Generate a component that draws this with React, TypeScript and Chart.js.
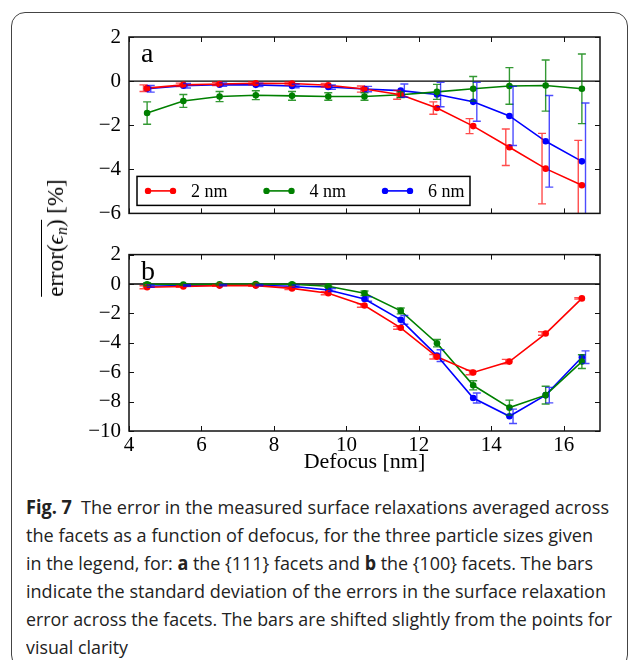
import React, { useEffect, useLayoutEffect, useRef } from "react";
import { Chart, registerables } from "chart.js";

Chart.register(...registerables);

// ---------------- data ----------------
const defocusNm = [4.5, 5.5, 6.5, 7.5, 8.5, 9.5, 10.5, 11.5, 12.5, 13.5, 14.5, 15.5, 16.5];
const sizeLabels = ["2 nm", "4 nm", "6 nm"];
const xTickValues = [4, 6, 8, 10, 12, 14, 16];
const yTicksA = [2, 0, -2, -4, -6];
const yTicksB = [2, 0, -2, -4, -6, -8, -10];

// panel a : {111} facets
const a2nm = [-0.32, -0.17, -0.13, -0.1, -0.11, -0.19, -0.36, -0.62, -1.22, -2.04, -3.0, -3.97, -4.72];
const a2nmSd = [0.15, 0.08, 0.07, 0.07, 0.07, 0.08, 0.14, 0.2, 0.28, 0.34, 0.83, 1.6, 2.03];
const a4nm = [-1.45, -0.9, -0.7, -0.64, -0.67, -0.7, -0.7, -0.62, -0.49, -0.35, -0.22, -0.2, -0.35];
const a4nmSd = [0.51, 0.29, 0.23, 0.2, 0.2, 0.17, 0.17, 0.13, 0.34, 0.56, 0.83, 1.16, 1.58];
const a6nm = [-0.35, -0.21, -0.16, -0.17, -0.22, -0.27, -0.36, -0.43, -0.61, -0.94, -1.58, -2.73, -3.64];
const a6nmSd = [0.15, 0.1, 0.08, 0.08, 0.08, 0.1, 0.12, 0.3, 0.55, 0.88, 1.34, 2.08, 2.65];

// panel b : {100} facets
const b2nm = [-0.22, -0.17, -0.11, -0.11, -0.3, -0.63, -1.46, -2.98, -4.95, -6.02, -5.28, -3.37, -0.98];
const b2nmSd = [0.1, 0.05, 0.05, 0.05, 0.08, 0.1, 0.12, 0.1, 0.15, 0.15, 0.15, 0.12, 0.05];
const b4nm = [-0.02, -0.03, -0.02, 0.0, -0.02, -0.15, -0.63, -1.83, -4.03, -6.89, -8.41, -7.56, -5.28];
const b4nmSd = [0.1, 0.05, 0.05, 0.05, 0.08, 0.08, 0.15, 0.2, 0.25, 0.31, 0.51, 0.6, 0.47];
const b6nm = [-0.15, -0.1, -0.08, -0.08, -0.15, -0.41, -1.02, -2.44, -4.87, -7.76, -9.0, -7.56, -4.98];
const b6nmSd = [0.08, 0.05, 0.05, 0.05, 0.08, 0.1, 0.15, 0.3, 0.4, 0.34, 0.49, 0.53, 0.43];

// error bars are drawn slightly shifted (defocus units) for clarity
const barOffsetNm = [-0.1, 0, 0.1];

// ---------------- style ----------------
const lineColors = ["#ff0000", "#008000", "#0000ff"];
const barColors = ["rgba(255,0,0,0.7)", "rgba(0,128,0,0.8)", "rgba(0,0,255,0.7)"];
const SERIF = '"Liberation Serif", "DejaVu Serif", serif';
const captionWidths = [583, 567, 567, 580, 586, 102];

const fmt = (v: number | string) => {
  const n = Number(v);
  return n < 0 ? "\u2212" + Math.abs(n) : String(n);
};

type PanelProps = {
  values: number[][];
  errors: number[][];
  yTicks: number[];
  yMin: number;
  yMax: number;
  letter: string;
  showLegend: boolean;
  showXLabels: boolean;
  top: number;
  canvasHeight: number;
  padTop: number;
  xAxisHeight: number;
};

function makeDecor(p: PanelProps) {
  return {
    id: "decor" + p.letter,
    beforeDatasetsDraw(chart: any) {
      const { ctx, chartArea, scales } = chart;
      const y0 = scales.y.getPixelForValue(0);
      ctx.save();
      ctx.strokeStyle = "#000";
      ctx.lineWidth = 1.3;
      ctx.beginPath();
      ctx.moveTo(chartArea.left, y0);
      ctx.lineTo(chartArea.right, y0);
      ctx.stroke();
      ctx.restore();
    },
    afterDatasetsDraw(chart: any) {
      const { ctx, chartArea, scales } = chart;
      const { left, right, top, bottom } = chartArea;
      const x = scales.x;
      const y = scales.y;
      // error bars
      ctx.save();
      ctx.beginPath();
      ctx.rect(left, top, right - left, bottom - top);
      ctx.clip();
      const cap = 4;
      p.errors.forEach((errs, i) => {
        const vals = p.values[i];
        ctx.strokeStyle = barColors[i];
        ctx.lineWidth = 1.4;
        defocusNm.forEach((xv, j) => {
          const px = x.getPixelForValue(xv + barOffsetNm[i]);
          const hi = y.getPixelForValue(vals[j] + errs[j]);
          const lo = y.getPixelForValue(vals[j] - errs[j]);
          ctx.beginPath();
          ctx.moveTo(px, hi);
          ctx.lineTo(px, lo);
          ctx.moveTo(px - cap, hi);
          ctx.lineTo(px + cap, hi);
          ctx.moveTo(px - cap, lo);
          ctx.lineTo(px + cap, lo);
          ctx.stroke();
        });
      });
      ctx.restore();

      // frame + inward ticks
      ctx.save();
      ctx.strokeStyle = "#111";
      ctx.lineWidth = 1.5;
      ctx.strokeRect(left, top, right - left, bottom - top);
      ctx.lineWidth = 1;
      const tl = 5;
      ctx.beginPath();
      xTickValues.forEach((v) => {
        const px = Math.round(x.getPixelForValue(v)) + 0.5;
        ctx.moveTo(px, bottom);
        ctx.lineTo(px, bottom - tl);
        ctx.moveTo(px, top);
        ctx.lineTo(px, top + tl);
      });
      p.yTicks.forEach((v) => {
        const py = Math.round(y.getPixelForValue(v)) + 0.5;
        ctx.moveTo(left, py);
        ctx.lineTo(left + tl, py);
        ctx.moveTo(right, py);
        ctx.lineTo(right - tl, py);
      });
      ctx.stroke();

      // panel letter
      ctx.fillStyle = "#000";
      ctx.font = "28px " + SERIF;
      ctx.textAlign = "left";
      ctx.textBaseline = "alphabetic";
      ctx.fillText(p.letter, left + 12, top + 25);

      // legend
      if (p.showLegend) {
        const bx = left + 8;
        const by = bottom - 37;
        const bw = 333;
        const bh = 29;
        ctx.fillStyle = "#fff";
        ctx.fillRect(bx, by, bw, bh);
        ctx.strokeStyle = "#000";
        ctx.lineWidth = 1.5;
        ctx.strokeRect(bx, by, bw, bh);
        const cy = by + bh / 2;
        chart.data.datasets.forEach((ds: any, i: number) => {
          const lx = bx + 11 + i * 118.5;
          ctx.strokeStyle = lineColors[i];
          ctx.fillStyle = lineColors[i];
          ctx.lineWidth = 1.6;
          ctx.beginPath();
          ctx.moveTo(lx, cy);
          ctx.lineTo(lx + 25, cy);
          ctx.stroke();
          [lx, lx + 25].forEach((dx) => {
            ctx.beginPath();
            ctx.arc(dx, cy, 3.2, 0, Math.PI * 2);
            ctx.fill();
          });
          ctx.fillStyle = "#000";
          ctx.font = "18px " + SERIF;
          ctx.textBaseline = "middle";
          ctx.fillText(ds.label, lx + 43, cy + 1);
        });
      }
      ctx.restore();
    },
  };
}

function Panel(p: PanelProps) {
  const ref = useRef<HTMLCanvasElement | null>(null);
  useEffect(() => {
    if (!ref.current) return;
    const datasets = p.values.map((vals, i) => ({
      label: sizeLabels[i],
      data: defocusNm.map((xv, j) => ({ x: xv, y: vals[j] })),
      borderColor: lineColors[i],
      backgroundColor: lineColors[i],
      pointBackgroundColor: lineColors[i],
      pointBorderWidth: 0,
      pointRadius: 3.3,
      borderWidth: 1.6,
      tension: 0,
      fill: false,
    }));
    const tickFont = { family: SERIF, size: 21 };
    const chart = new Chart(ref.current, {
      type: "line",
      data: { datasets },
      plugins: [makeDecor(p)],
      options: {
        animation: false,
        responsive: false,
        devicePixelRatio: 1,
        maintainAspectRatio: false,
        layout: { padding: { top: p.padTop, right: 30, left: 0, bottom: 0 } },
        plugins: {
          legend: { display: false },
          tooltip: { enabled: false },
          title: { display: false },
        },
        scales: {
          x: {
            type: "linear",
            min: 4,
            max: 17,
            afterBuildTicks: (s: any) => {
              s.ticks = xTickValues.map((v) => ({ value: v }));
            },
            afterFit: (s: any) => {
              s.height = p.xAxisHeight;
            },
            grid: { display: false, drawTicks: false, tickLength: 0 },
            border: { display: false },
            ticks: {
              display: p.showXLabels,
              autoSkip: false,
              maxRotation: 0,
              padding: 2,
              color: "#000",
              font: tickFont,
              callback: (v: any) => fmt(v),
            },
            title: {
              display: p.showXLabels,
              text: "Defocus [nm]",
              color: "#000",
              font: { family: SERIF, size: 22 },
              padding: { top: 0, bottom: 5 },
            },
          },
          y: {
            type: "linear",
            min: p.yMin,
            max: p.yMax,
            afterBuildTicks: (s: any) => {
              s.ticks = p.yTicks.map((v) => ({ value: v }));
            },
            afterFit: (s: any) => {
              s.width = 129;
            },
            grid: { display: false, drawTicks: false, tickLength: 0 },
            border: { display: false },
            ticks: {
              autoSkip: false,
              padding: 8,
              color: "#000",
              font: tickFont,
              callback: (v: any) => fmt(v),
            },
          },
        },
      } as any,
    } as any);
    return () => chart.destroy();
  }, []);
  return (
    <canvas
      ref={ref}
      width={630}
      height={p.canvasHeight}
      style={{ position: "absolute", left: 0, top: p.top, width: 630, height: p.canvasHeight }}
    />
  );
}

export default function App() {
  const lineRefs = useRef<(HTMLSpanElement | null)[]>([]);
  useLayoutEffect(() => {
    const fit = () =>
      lineRefs.current.forEach((el, i) => {
        if (!el) return;
        el.style.transform = "none";
        const w = el.getBoundingClientRect().width;
        if (w > 0) el.style.transform = `scaleX(${captionWidths[i] / w})`;
      });
    fit();
    const f: any = (document as any).fonts;
    if (f && f.ready) f.ready.then(fit);
  }, []);

  const lines: React.ReactNode[] = [
    <>
      <b>Fig. 7</b>&ensp;The error in the measured surface relaxations averaged across
    </>,
    <>the facets as a function of defocus, for the three particle sizes given</>,
    <>
      in the legend, for: <b>a</b> the {"{111}"} facets and <b>b</b> the {"{100}"} facets. The bars
    </>,
    <>indicate the standard deviation of the errors in the surface relaxation</>,
    <>error across the facets. The bars are shifted slightly from the points for</>,
    <>visual clarity</>,
  ];

  return (
    <div
      style={{
        position: "absolute",
        left: 0,
        top: 0,
        width: 630,
        height: 660,
        overflow: "hidden",
        background: "#fff",
      }}
    >
      <div
        style={{
          position: "absolute",
          left: 11,
          top: 12,
          width: 617,
          height: 657,
          border: "1.3px solid #444",
          borderRadius: 14,
          boxSizing: "border-box",
        }}
      />
      <Panel
        values={[a2nm, a4nm, a6nm]}
        errors={[a2nmSd, a4nmSd, a6nmSd]}
        yTicks={yTicksA}
        yMin={-6}
        yMax={2}
        letter="a"
        showLegend={true}
        showXLabels={false}
        top={0}
        canvasHeight={234}
        padTop={37}
        xAxisHeight={14}
      />
      <Panel
        values={[b2nm, b4nm, b6nm]}
        errors={[b2nmSd, b4nmSd, b6nmSd]}
        yTicks={yTicksB}
        yMin={-10}
        yMax={2}
        letter="b"
        showLegend={false}
        showXLabels={true}
        top={234}
        canvasHeight={246}
        padTop={13}
        xAxisHeight={49}
      />
      <div
        style={{
          position: "absolute",
          left: 59,
          top: 238,
          transform: "translate(-50%, -50%) rotate(-90deg)",
          whiteSpace: "nowrap",
          fontFamily: SERIF,
          fontSize: 23,
          lineHeight: "26px",
          color: "#000",
        }}
      >
        <span style={{ borderTop: "1.2px solid #000", paddingTop: 1 }}>
          error(<i>{"\u03f5"}</i>
          <i style={{ fontSize: 16, verticalAlign: "-4px" }}>n</i>)
        </span>{" "}
        [%]
      </div>
      <div
        style={{
          position: "absolute",
          left: 26,
          top: 493,
          fontFamily: '"Open Sans", "Noto Sans", sans-serif',
          fontSize: 19,
          color: "#222",
          lineHeight: "28px",
        }}
      >
        {lines.map((ln, i) => (
          <div key={i} style={{ height: 28, whiteSpace: "nowrap" }}>
            <span
              ref={(el) => {
                lineRefs.current[i] = el;
              }}
              style={{ display: "inline-block", transformOrigin: "0 0", whiteSpace: "nowrap" }}
            >
              {ln}
            </span>
          </div>
        ))}
      </div>
    </div>
  );
}
